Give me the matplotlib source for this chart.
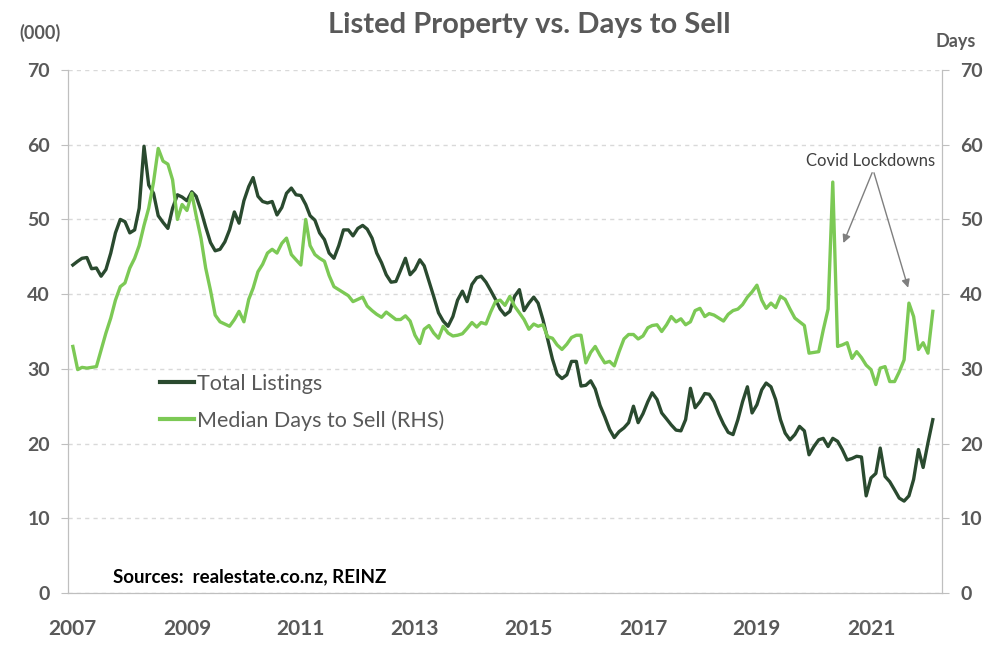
import pandas as pd
import numpy as np
import matplotlib
matplotlib.use("Agg")
import matplotlib.pyplot as plt

# %%
# monthly data, Jan 2007 - Feb 2022
months = pd.date_range("2007-01-01", periods=182, freq="MS")

total_listings = [
    43.9, 44.4, 44.8, 44.9, 43.4, 43.5, 42.4, 43.3, 45.5, 48.2, 50.0, 49.7,
    48.2, 48.6, 51.5, 59.8, 54.6, 53.5, 50.5, 49.6, 48.8, 51.5, 53.3, 53.0,
    52.5, 53.7, 53.1, 51.2, 49.0, 46.9, 45.8, 46.0, 47.0, 48.6, 51.0, 49.5,
    52.5, 54.4, 55.6, 53.1, 52.4, 52.2, 52.4, 50.6, 51.6, 53.5, 54.2, 53.3,
    53.2, 52.0, 50.5, 49.9, 48.2, 47.3, 45.5, 44.8, 46.5, 48.6, 48.6, 47.8,
    48.8, 49.2, 48.7, 47.5, 45.5, 44.2, 42.6, 41.6, 41.7, 43.2, 44.8, 42.6,
    43.3, 44.6, 43.8, 41.7, 39.7, 37.5, 36.4, 35.7, 37.0, 39.2, 40.4, 39.0,
    41.3, 42.2, 42.4, 41.6, 40.5, 39.3, 38.0, 37.2, 37.7, 39.7, 40.6, 37.8,
    38.8, 39.6, 38.8, 36.6, 34.0, 31.3, 29.3, 28.7, 29.2, 31.0, 31.0, 27.7,
    27.8, 28.4, 27.3, 25.1, 23.6, 21.9, 20.8, 21.6, 22.1, 22.8, 25.0, 22.8,
    24.0, 25.6, 26.8, 25.9, 24.1, 23.3, 22.5, 21.8, 21.7, 23.2, 27.4, 24.8,
    25.6, 26.7, 26.6, 25.6, 24.0, 22.6, 21.5, 21.2, 23.2, 25.6, 27.6, 24.1,
    25.2, 27.2, 28.1, 27.6, 25.9, 23.2, 21.4, 20.5, 21.2, 22.3, 21.7, 18.5,
    19.6, 20.5, 20.7, 19.6, 20.7, 20.3, 19.2, 17.8, 18.0, 18.3, 18.2, 13.0,
    15.4, 16.0, 19.4, 15.6, 14.9, 13.8, 12.7, 12.3, 13.0, 15.2, 19.2, 16.8,
    20.1, 23.2,
]

days_to_sell = [
    33.0, 29.9, 30.2, 30.1, 30.2, 30.3, 32.5, 34.8, 36.8, 39.2, 41.0, 41.5,
    43.5, 44.8, 46.5, 49.2, 51.5, 55.0, 59.5, 57.8, 57.4, 55.3, 50.0, 52.0,
    51.2, 53.5, 50.5, 47.5, 43.5, 40.5, 37.2, 36.3, 36.0, 35.7, 36.6, 37.7,
    36.3, 39.3, 40.8, 43.0, 44.0, 45.5, 46.0, 45.5, 46.8, 47.5, 45.3, 44.6,
    43.9, 50.0, 46.5, 45.3, 44.8, 44.4, 42.5, 41.0, 40.6, 40.2, 39.8, 39.0,
    39.3, 39.6, 38.4, 37.8, 37.3, 36.9, 37.6, 37.1, 36.6, 36.6, 37.1, 36.4,
    34.5, 33.4, 35.3, 35.8, 34.8, 34.1, 35.7, 34.8, 34.4, 34.5, 34.7, 35.4,
    36.2, 35.6, 36.2, 36.0, 37.6, 39.0, 39.2, 38.5, 39.7, 38.4, 37.5, 36.6,
    35.3, 36.0, 35.7, 35.9, 34.3, 34.1, 33.2, 32.6, 33.3, 34.2, 34.5, 34.5,
    30.8, 32.2, 33.0, 31.8, 30.8, 31.0, 30.4, 32.3, 34.0, 34.6, 34.6, 34.0,
    34.4, 35.5, 35.8, 35.9, 35.0, 35.9, 37.0, 36.3, 36.7, 35.9, 36.3, 37.8,
    38.1, 37.0, 37.4, 37.2, 36.8, 36.4, 37.3, 37.8, 38.0, 38.6, 39.6, 40.3,
    41.2, 39.2, 38.1, 38.8, 38.2, 39.7, 39.3, 38.0, 36.8, 36.3, 35.8, 32.1,
    32.2, 32.3, 35.2, 38.0, 55.0, 33.0, 33.2, 33.5, 31.4, 32.3, 31.5, 30.5,
    29.9, 27.9, 30.1, 30.3, 28.3, 28.3, 29.6, 31.2, 38.8, 37.0, 32.6, 33.5,
    32.1, 37.7,
]

year_ticks = ["2007", "2009", "2011", "2013", "2015", "2017", "2019", "2021"]
y_ticks = [0, 10, 20, 30, 40, 50, 60, 70]

dark_green = "#2a4a2f"
light_green = "#7cc955"
grey = "#595959"
font = "Lato"

# %%
fig = plt.figure(figsize=(10.06, 6.58), dpi=100)
ax = fig.add_axes([0.0676, 0.0988, 0.8688, 0.7948])
ax2 = ax.twinx()

ax.plot(months, total_listings, color=dark_green, lw=2.4, label="Total Listings")
ax2.plot(months, days_to_sell, color=light_green, lw=2.4,
         label="Median Days to Sell (RHS)")

for a in (ax, ax2):
    a.set_ylim(0, 70)
    a.set_yticks(y_ticks)
    a.set_xlim(pd.Timestamp("2006-12-01"), pd.Timestamp("2022-04-01"))
    for s in a.spines.values():
        s.set_color("#bfbfbf")
    a.spines["top"].set_visible(False)
    a.tick_params(axis="y", length=5, color="#bfbfbf", labelcolor=grey,
                  labelsize=14, pad=8)

ax.set_xticks([pd.Timestamp(y + "-01-01") for y in year_ticks])
ax.set_xticklabels(year_ticks)
ax.tick_params(axis="x", length=0, labelcolor=grey, labelsize=15, pad=19)
for lab in ax.get_xticklabels() + ax.get_yticklabels() + ax2.get_yticklabels():
    lab.set_fontfamily(font)
    lab.set_fontweight("bold")

ax.yaxis.grid(True, color="#d9d9d9", linestyle=(0, (3, 3)), lw=1)
ax.set_axisbelow(True)

# titles and axis units
fig.text(0.526, 0.962, "Listed Property vs. Days to Sell", ha="center",
         va="center", fontsize=21, fontweight="bold", color=grey, family=font)
fig.text(0.040, 0.950, "(000)", ha="center", va="center", fontsize=13,
         fontweight="bold", color=grey, family=font)
fig.text(0.950, 0.937, "Days", ha="center", va="center", fontsize=13,
         fontweight="bold", color=grey, family=font)

# legend
h1, l1 = ax.get_legend_handles_labels()
h2, l2 = ax2.get_legend_handles_labels()
leg = fig.legend(h1 + h2, l1 + l2, loc="upper left",
                 bbox_to_anchor=(160 / 1006, 1 - 374 / 658), frameon=False,
                 prop={"family": font, "size": 15.5}, handlelength=1.6,
                 handletextpad=0.1, labelspacing=0.75, borderpad=0,
                 borderaxespad=0)
for t in leg.get_texts():
    t.set_color(grey)
for ln in leg.get_lines():
    ln.set_linewidth(3)

# covid annotation
ax2.text(pd.Timestamp("2021-01-01"), 57.8, "Covid Lockdowns", ha="center",
         va="center", fontsize=12, color="#404040", family=font)
for target in [(pd.Timestamp("2020-07-01"), 46.5), (pd.Timestamp("2021-09-01"), 40.5)]:
    ax2.annotate("", xy=target, xytext=(pd.Timestamp("2021-01-15"), 56.6),
                 arrowprops=dict(arrowstyle="-|>", color="#7f7f7f", lw=1.0,
                                 mutation_scale=12))

fig.text(113 / 1006, 1 - 577 / 658, "Sources:  realestate.co.nz, REINZ",
         ha="left", va="center", fontsize=13.5, fontweight="bold",
         color="black", family=font)

plt.savefig("out.png", dpi=100, facecolor="white")
